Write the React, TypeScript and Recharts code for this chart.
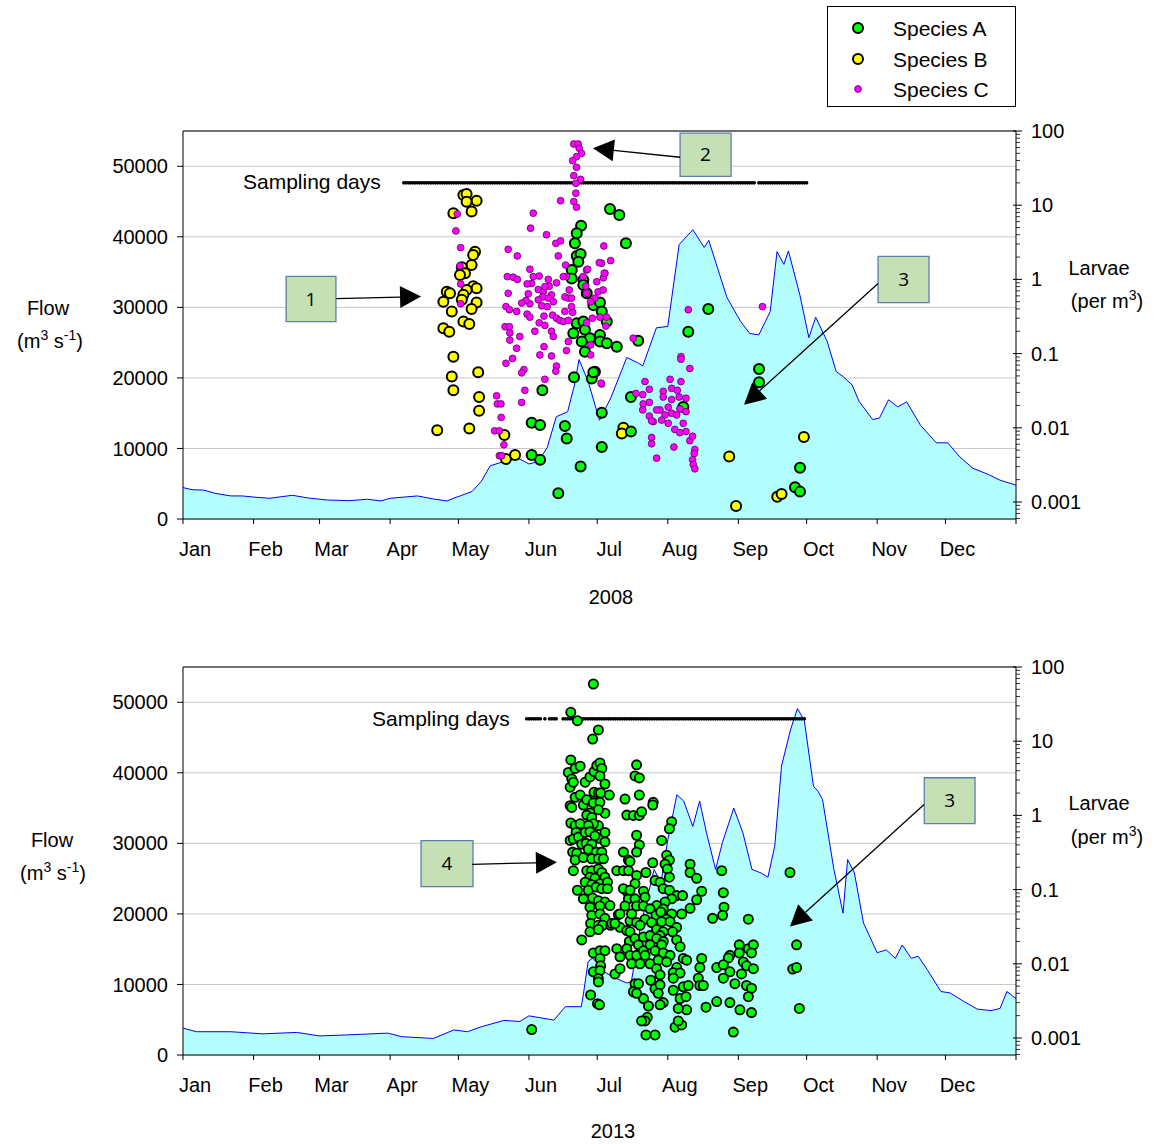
import React from 'react';
import { ComposedChart, Area, Scatter, XAxis, YAxis, CartesianGrid, ReferenceArea, ReferenceLine } from 'recharts';

const FONT = '"Liberation Sans", Arial, Helvetica, sans-serif';

// ---------- axes ----------
const MONTHS = ['Jan', 'Feb', 'Mar', 'Apr', 'May', 'Jun', 'Jul', 'Aug', 'Sep', 'Oct', 'Nov', 'Dec'];
const MONTH_TICKS = [0, 31, 60, 91, 121, 152, 182, 213, 244, 274, 305, 335, 366];
const FLOW_TICKS = [0, 10000, 20000, 30000, 40000, 50000];
const LARVAE_MAJOR = [0.001, 0.01, 0.1, 1, 10, 100];
const LARVAE_LABELS = ['0.001', '0.01', '0.1', '1', '10', '100'];
const LARVAE_MINOR = [
  0.0006, 0.0007, 0.0008, 0.0009,
  0.002, 0.003, 0.004, 0.005, 0.006, 0.007, 0.008, 0.009,
  0.02, 0.03, 0.04, 0.05, 0.06, 0.07, 0.08, 0.09,
  0.2, 0.3, 0.4, 0.5, 0.6, 0.7, 0.8, 0.9,
  2, 3, 4, 5, 6, 7, 8, 9,
  20, 30, 40, 50, 60, 70, 80, 90,
];
const LARVAE_TICKS = [...LARVAE_MAJOR, ...LARVAE_MINOR].sort((a, b) => a - b);
const LOG_MIN = 0.00059;
const SAMPLING_LEVEL = 20;

// ---------- 2008 ----------
const flow2008 = [[0,4450],[4,4150],[9,4100],[14,3650],[21,3270],[26,3270],[32,3080],[38,2940],[48,3360],[55,2980],[63,2700],[73,2600],[81,2800],[87,2560],[91,2940],[103,3270],[110,2840],[116,2560],[120,3080],[122,3300],[127,3900],[131,5300],[135,7550],[139,7950],[144,8400],[148,8500],[152,7800],[156,8150],[160,10100],[164,14500],[169,15200],[172,19000],[174,22600],[178,19500],[183,14000],[188,17200],[195,22900],[200,22100],[202,21700],[208,27100],[213,27300],[218,38900],[224,41000],[229,38500],[231,39500],[239,31400],[245,28000],[249,26300],[253,26100],[258,29400],[261,37900],[264,36100],[266,38000],[271,31800],[275,25700],[278,28600],[283,25200],[287,20900],[290,20200],[294,19000],[297,16700],[303,14100],[306,14300],[310,16900],[314,15900],[318,16600],[324,13300],[331,10800],[336,10800],[341,8900],[347,7200],[354,6300],[359,5500],[366,4800]];

const speciesA2008 = [[187.6,8.9],[191.7,7.4],[194.6,3.07],[174.9,5.3],[173.0,4.2],[172.2,3.07],[173.0,2.07],[174.7,2.2],[173.7,1.73],[170.8,1.34],[170.8,1.03],[175.9,0.98],[175.9,0.84],[177.4,0.65],[180.3,0.45],[183.2,0.49],[184.0,0.37],[186.2,0.27],[173.0,0.256],[175.9,0.27],[176.6,0.21],[171.5,0.188],[178.8,0.161],[183.2,0.178],[183.2,0.145],[175.2,0.145],[186.2,0.138],[190.6,0.124],[176.6,0.106],[181.0,0.057],[179.6,0.046],[171.8,0.048],[157.9,0.032],[184.0,0.016],[153.2,0.0117],[156.9,0.0109],[167.8,0.0106],[168.6,0.0072],[184.0,0.0055],[153.2,0.0043],[156.9,0.0037],[174.7,0.003],[200.0,0.149],[196.8,0.026],[196.8,0.0089],[222.0,0.197],[230.8,0.4],[219.8,0.019],[253.1,0.062],[253.1,0.041],[271.1,0.0029],[268.9,0.00158],[271.1,0.00138],[164.9,0.00131],[180.3,0.056]];

const speciesB2008 = [[123.2,13.7],[124.6,14.2],[129.0,11.5],[124.6,11.1],[126.8,8.2],[118.8,7.8],[128.3,2.36],[127.5,2.13],[126.8,1.56],[122.5,1.46],[123.9,1.21],[121.7,1.15],[127.5,0.81],[129.0,0.76],[124.6,0.72],[115.9,0.68],[117.3,0.65],[114.4,0.5],[123.2,0.62],[122.5,0.53],[129.0,0.49],[126.8,0.4],[118.1,0.37],[123.2,0.27],[125.8,0.25],[114.4,0.22],[117.0,0.197],[118.8,0.091],[118.1,0.049],[129.7,0.056],[118.8,0.032],[130.1,0.026],[130.1,0.017],[111.7,0.0093],[125.8,0.0098],[141.2,0.008],[141.9,0.0038],[145.9,0.0043],[193.5,0.01],[192.8,0.0084],[240.0,0.0041],[243.0,0.00088],[261.1,0.00118],[263.0,0.00128],[272.8,0.0075]];

const speciesC2008 = [[171.7,66.8],[173.6,66.8],[174.1,58.4],[175.1,50],[172.9,45.1],[171.2,39.8],[172.9,32.4],[171.7,25],[174.7,22.3],[172.6,19.7],[172.6,14.5],[171.7,11.2],[172.9,9.4],[165.9,11.5],[153.9,7.8],[152.7,4.9],[159.7,4.0],[163.8,3.06],[165.9,3.3],[164.9,2.07],[168.1,1.56],[142.9,2.54],[146.9,2.07],[119.9,4.5],[122.0,2.68],[120.5,7.6],[121.7,1.52],[122.0,0.87],[122.0,0.47],[142.5,1.09],[145.1,1.07],[146.9,1.0],[152.4,1.37],[153.9,1.09],[156.5,1.11],[160.5,1.0],[160.9,0.81],[164.1,0.9],[153.2,0.88],[151.2,0.87],[142.9,0.65],[151.7,0.64],[156.1,0.73],[158.3,0.68],[159.0,0.8],[161.9,0.62],[158.0,0.58],[160.5,0.56],[162.7,0.5],[167.8,0.58],[169.3,0.56],[169.7,0.72],[168.5,1.09],[156.1,0.53],[152.4,0.47],[150.7,0.52],[148.8,0.48],[157.6,0.44],[160.0,0.43],[141.9,0.43],[143.4,0.39],[146.6,0.37],[151.2,0.34],[152.4,0.31],[158.6,0.32],[162.4,0.33],[164.1,0.3],[165.6,0.28],[167.8,0.37],[171.2,0.36],[170.7,0.43],[167.1,0.27],[169.3,0.28],[156.5,0.26],[159.0,0.24],[141.5,0.23],[143.4,0.23],[143.6,0.19],[143.6,0.152],[148.0,0.17],[154.6,0.2],[161.9,0.2],[162.7,0.17],[169.3,0.145],[158.6,0.124],[146.6,0.118],[156.8,0.096],[161.9,0.093],[168.5,0.11],[164.1,0.068],[163.8,0.058],[144.8,0.086],[141.9,0.074],[149.8,0.061],[148.8,0.055],[159.0,0.045],[150.2,0.032],[148.8,0.022],[137.8,0.027],[138.1,0.021],[139.7,0.021],[139.8,0.0138],[136.9,0.0091],[139.0,0.0091],[141.0,0.0059],[139.0,0.0042],[140.0,0.0042],[177.3,0.65],[181.0,0.56],[182.4,0.68],[184.6,0.72],[185.4,1.21],[183.9,1.65],[187.9,1.79],[184.9,2.82],[177.3,1.34],[175.8,1.09],[176.9,0.81],[179.1,0.5],[179.9,0.3],[179.1,0.131],[179.1,0.096],[183.9,0.039],[183.2,0.31],[186.1,0.31],[177.3,0.26],[170.7,0.56],[167.1,1.09],[185.8,0.235],[197.8,0.161],[222.0,0.39],[254.6,0.43],[218.8,0.091],[218.8,0.084],[222.7,0.063],[214.0,0.045],[218.8,0.042],[203.0,0.042],[204.9,0.033],[202.0,0.028],[199.0,0.029],[211.0,0.031],[214.7,0.034],[217.2,0.032],[221.0,0.025],[218.0,0.026],[211.0,0.026],[214.7,0.024],[204.9,0.022],[202.2,0.021],[213.2,0.019],[218.3,0.018],[221.0,0.0165],[209.6,0.0174],[208.1,0.0174],[202.0,0.0174],[204.9,0.0144],[211.8,0.0149],[214.7,0.0157],[216.9,0.0149],[206.6,0.0121],[210.3,0.0127],[213.2,0.0115],[205.9,0.0124],[216.1,0.0095],[219.8,0.0115],[218.3,0.0086],[221.0,0.0089],[222.7,0.0067],[223.9,0.0077],[205.9,0.0074],[205.9,0.0061],[215.7,0.0055],[224.9,0.0051],[224.6,0.0045],[223.9,0.0037],[224.2,0.0032],[224.9,0.0028],[208.1,0.0039],[182.9,1.68],[177.8,1.37],[181.8,0.93],[184.7,1.05],[185.1,1.21],[183.7,0.04]];

const samplingRanges2008 = [[97, 251], [253, 274]];

// ---------- 2013 ----------
const flow2013 = [[0,3800],[6,3300],[21,3300],[35,3000],[50,3200],[60,2700],[72,2850],[90,3100],[96,2600],[110,2350],[119,3550],[125,3300],[131,4000],[141,4900],[148,4750],[152,5550],[163,4950],[168,6850],[175,6850],[176,8800],[178,13250],[180,13750],[185,11800],[190,10900],[195,10200],[197,10400],[201,18200],[207,26300],[210,24400],[213,30500],[217,36900],[220,36000],[224,32400],[227,36000],[230,31500],[234,26300],[237,30100],[242,35000],[246,31500],[250,26300],[254,25800],[257,25200],[260,29600],[263,41000],[267,46200],[270,49100],[273,47400],[277,38100],[279,37400],[281,36200],[286,26300],[290,20100],[292,27700],[295,25800],[299,18700],[305,14500],[309,14900],[313,13700],[316,15600],[320,13700],[323,14000],[327,12100],[333,9000],[337,8800],[343,7600],[349,6500],[355,6300],[359,6600],[362,9000],[366,8000]];

const speciesA2013 = [[180.3,59],[170.4,24.5],[173.3,18.9],[182.5,14.2],[180.0,10.7],[170.4,5.6],[169.3,3.8],[172.3,4.3],[174.5,4.6],[170.8,3.1],[170.1,2.4],[171.5,2.8],[172.3,1.75],[174.5,1.88],[170.1,1.35],[170.8,1.28],[175.9,1.38],[170.4,0.79],[172.3,0.73],[174.5,0.77],[172.7,0.59],[170.1,0.46],[171.5,0.48],[173.7,0.51],[175.2,0.41],[171.2,0.32],[173.0,0.31],[172.3,0.25],[171.5,0.18],[173.3,0.098],[175.2,0.021],[176.7,2.8],[178.8,3.3],[180.6,3.9],[181.8,4.7],[183.2,5.1],[184.0,4.3],[183.2,3.4],[185.4,2.65],[180.6,2.05],[182.5,2.0],[183.5,2.0],[187.3,1.88],[177.4,1.63],[180.3,1.47],[183.2,1.5],[185.4,1.07],[182.5,1.19],[178.8,1.08],[177.4,1.01],[179.6,0.94],[182.5,0.73],[180.3,0.77],[178.1,0.73],[176.7,0.59],[178.8,0.6],[183.2,0.49],[185.4,0.59],[181.0,0.53],[177.1,0.42],[179.6,0.41],[185.4,0.44],[178.1,0.35],[181.5,0.32],[184.0,0.32],[175.9,0.27],[179.6,0.26],[182.5,0.26],[184.7,0.26],[177.4,0.18],[179.6,0.18],[182.5,0.19],[184.0,0.17],[178.8,0.147],[181.0,0.142],[185.4,0.147],[176.7,0.126],[179.6,0.116],[183.2,0.12],[186.5,0.126],[178.1,0.098],[181.5,0.108],[184.0,0.103],[186.5,0.103],[175.9,0.075],[180.0,0.077],[182.5,0.071],[185.4,0.068],[178.8,0.058],[183.2,0.06],[187.6,0.061],[179.6,0.045],[183.2,0.047],[185.4,0.041],[179.1,0.035],[182.5,0.033],[184.4,0.033],[178.8,0.027],[182.5,0.029],[187.9,0.033],[191.3,0.046],[188.4,0.035],[192.0,0.031],[180.3,0.014],[183.2,0.015],[185.4,0.015],[183.2,0.0118],[183.5,0.0094],[180.3,0.0078],[183.2,0.0081],[182.5,0.0063],[182.5,0.0057],[179.1,0.0038],[182.1,0.0029],[183.0,0.0028],[153.2,0.0013],[190.6,0.18],[193.5,0.18],[195.7,0.18],[193.5,0.32],[195.7,0.25],[195.0,0.095],[195.7,0.075],[194.2,0.06],[192.0,0.047],[189.8,0.035],[195.0,0.028],[196.4,0.038],[190.6,0.016],[192.0,0.0124],[196.1,0.02],[195.0,0.016],[189.8,0.0073],[192.0,0.0086],[194.2,1.66],[195.0,1.01],[193.5,0.103],
[199.3,4.8],[198.6,3.4],[200.5,3.2],[200.5,1.88],[197.9,1.0],[200.5,1.0],[201.5,1.12],[199.3,0.54],[200.5,0.4],[199.3,0.32],[196.4,0.24],[199.3,0.155],[198.6,0.12],[196.4,0.098],[202.3,0.095],[198.6,0.075],[203.0,0.079],[199.3,0.06],[202.3,0.06],[197.1,0.047],[199.3,0.036],[203.0,0.04],[200.8,0.033],[196.4,0.027],[198.6,0.022],[202.3,0.023],[200.1,0.018],[196.4,0.013],[199.3,0.013],[202.3,0.015],[197.1,0.01],[200.8,0.01],[203.0,0.013],[198.6,0.0054],[200.1,0.0054],[202.3,0.0034],[197.9,0.0042],[199.3,0.004],[204.5,0.0027],[204.0,0.0019],[203.0,0.0017],[201.5,0.0017],[203.4,0.0011],[207.4,0.0011],[206.6,1.5],[206.4,1.38],[214.7,0.82],[213.7,0.66],[210.3,0.46],[212.5,0.29],[213.7,0.25],[211.8,0.22],[212.8,0.19],[206.4,0.23],[203.4,0.17],[207.4,0.133],[209.6,0.126],[213.7,0.147],[211.0,0.103],[213.7,0.098],[216.9,0.083],[219.5,0.083],[214.7,0.075],[211.8,0.068],[208.1,0.061],[205.2,0.055],[211.0,0.055],[207.8,0.045],[209.9,0.05],[214.7,0.047],[212.5,0.04],[205.9,0.036],[210.3,0.037],[214.0,0.037],[216.9,0.031],[208.1,0.029],[211.0,0.027],[215.1,0.027],[205.2,0.024],[209.6,0.024],[208.1,0.022],[211.0,0.02],[216.9,0.021],[205.2,0.018],[210.3,0.018],[207.4,0.015],[218.4,0.017],[211.0,0.014],[214.0,0.013],[219.8,0.0118],[221.3,0.0112],[205.2,0.01],[208.8,0.0112],[212.5,0.0106],[216.9,0.0089],[208.1,0.0086],[209.6,0.0071],[215.4,0.0076],[218.4,0.0075],[215.4,0.0064],[205.5,0.006],[207.4,0.0046],[209.6,0.0052],[208.8,0.004],[215.4,0.0044],[219.8,0.0049],[222.0,0.0051],[211.0,0.003],[209.6,0.0028],[218.4,0.0034],[221.0,0.0036],[221.3,0.0024],[217.6,0.0025],[216.2,0.0014],[219.1,0.0015],[217.6,0.0017],[222.8,0.22],[222.8,0.17],[225.7,0.142],[227.9,0.095],[225.7,0.073],[222.8,0.056],[219.1,0.047],[227.9,0.0118],[227.1,0.0089],[226.4,0.0064],[227.1,0.0051],[228.6,0.0051],[236.7,0.18],[237.4,0.091],[237.7,0.058],[237.1,0.045],[232.7,0.041],[248.4,0.04],[266.7,0.17],[234.5,0.0089],[240.3,0.013],[239.6,0.012],[237.4,0.0097],[240.3,0.0078],[237.4,0.0064],[242.5,0.0054],[244.4,0.018],[244.4,0.014],[248.4,0.016],[250.6,0.018],[249.8,0.014],[246.2,0.0106],[247.6,0.0094],[250.6,0.0086],[245.4,0.0073],[247.6,0.0051],[249.8,0.0047],[248.4,0.0036],[244.7,0.0024],[249.8,0.0022],[240.3,0.003],[234.5,0.0031],[229.8,0.0026],[241.8,0.0012],[269.6,0.018],[267.9,0.0085],[269.6,0.0089],[270.8,0.0025]];

const samplingRanges2013 = [[151, 157], [159, 159], [161, 164], [167, 273]];

// ---------- annotations (in data coordinates: day, flow) ----------
const notes2008 = {
  boxes: [
    { label: '1', x1: 45.3, x2: 67.2, y1: 27980, y2: 34380 },
    { label: '2', x1: 218.4, x2: 240.8, y1: 48580, y2: 54690 },
    { label: '3', x1: 305.4, x2: 327.8, y1: 30680, y2: 37220 },
  ],
  arrows: [
    { from: [67.2, 31250], to: [104.6, 31530] },
    { from: [218.4, 51280], to: [180.1, 52560] },
    { from: [305.4, 33380], to: [246.5, 16190] },
  ],
};
const notes2013 = {
  boxes: [
    { label: '4', x1: 104.6, x2: 127.4, y1: 23860, y2: 30400 },
    { label: '3', x1: 325.7, x2: 348.0, y1: 32810, y2: 39300 },
  ],
  arrows: [
    { from: [127.0, 27030], to: [164.3, 27320] },
    { from: [325.6, 35510], to: [266.7, 18230] },
  ],
};

// ---------- helpers ----------
const toFlow = (arr) => arr.map(([day, flow]) => ({ day, flow }));
const toPts = (arr) => arr.map(([day, v]) => ({ day, v }));
const toSampling = (ranges) => {
  const out = [];
  ranges.forEach(([s, e]) => { for (let d = s; d <= e; d++) out.push({ day: d, v: SAMPLING_LEVEL }); });
  return out;
};

const renderMonthTick = (p) => {
  const idx = MONTH_TICKS.indexOf(p.payload.value);
  return (
    <g>
      <line x1={p.x} x2={p.x} y1={p.y} y2={p.y + 5} stroke="#000" />
      {idx >= 0 && idx < 12 && (
        <text x={p.x + 12} y={p.y + 30} dy="0.355em" textAnchor="middle" fontSize={20} fill="#000" fontFamily={FONT}>
          {MONTHS[idx]}
        </text>
      )}
    </g>
  );
};

const renderLogTick = (p) => {
  const v = p.payload.value;
  const idx = LARVAE_MAJOR.findIndex((m) => Math.abs(m - v) / m < 1e-6);
  const major = idx >= 0;
  return (
    <g>
      <line x1={major ? p.x - 3 : p.x} x2={p.x + (major ? 6 : 4)} y1={p.y} y2={p.y} stroke="#000" strokeWidth={major ? 1 : 0.8} />
      {major && (
        <text x={p.x + 15} y={p.y} dy="0.355em" textAnchor="start" fontSize={20} fill="#000" fontFamily={FONT}>
          {LARVAE_LABELS[idx]}
        </text>
      )}
    </g>
  );
};

const ArrowShape = (p) => {
  const { x1, y1, x2, y2 } = p;
  if ([x1, y1, x2, y2].some((n) => typeof n !== 'number' || isNaN(n))) return null;
  const dx = x2 - x1;
  const dy = y2 - y1;
  const len = Math.hypot(dx, dy) || 1;
  const ux = dx / len;
  const uy = dy / len;
  const L = 21;
  const W = 11;
  const bx = x2 - ux * L;
  const by = y2 - uy * L;
  const pts = `${x2},${y2} ${bx - uy * W},${by + ux * W} ${bx + uy * W},${by - ux * W}`;
  return (
    <g>
      <line x1={x1} y1={y1} x2={bx} y2={by} stroke="#000" strokeWidth={1.3} />
      <polygon points={pts} fill="#000" />
    </g>
  );
};

const dot = (fill, r, stroke, sw) => (p) =>
  p.cx == null || p.cy == null ? <g /> : <circle cx={p.cx} cy={p.cy} r={r} fill={fill} stroke={stroke} strokeWidth={sw} />;

const shapeSampling = dot('#000', 1.8, 'none', 0);
const shapeA = dot('#00ff00', 5, '#000', 2);
const shapeA13 = dot('#00ff00', 4.6, '#000', 1.8);
const shapeB = dot('#ffff00', 5, '#000', 2);
const shapeC = dot('#ff00ff', 3.4, '#5a005a', 0.8);

function Panel({ top, flow, a, b, c, aShape, sampling, notes }) {
  return (
    <div style={{ position: 'absolute', left: 0, top, width: 1154, height: 620 }}>
      <ComposedChart width={1154} height={620} data={flow} margin={{ top: 131, right: 0, bottom: 61, left: 0 }} style={{ fontFamily: FONT }}>
        <CartesianGrid yAxisId="left" vertical={false} stroke="#c8c8c8" />
        <XAxis
          dataKey="day" type="number" domain={[0, 366]} ticks={MONTH_TICKS} interval={0}
          tickLine={false} tickSize={0} tickMargin={0} height={40} stroke="#000"
          tick={renderMonthTick} allowDataOverflow
        />
        <YAxis
          yAxisId="left" orientation="left" domain={[0, 55000]} ticks={FLOW_TICKS} interval={0}
          width={183} stroke="#000" tickSize={6} tickMargin={9}
          tick={{ fill: '#000', fontSize: 20, fontFamily: FONT }} allowDataOverflow
        />
        <YAxis
          yAxisId="right" orientation="right" dataKey="v" scale="log" domain={[LOG_MIN, 100]}
          ticks={LARVAE_TICKS} interval={0} width={138} stroke="#000"
          tickLine={false} tickSize={0} tickMargin={0} tick={renderLogTick} allowDataOverflow
        />
        <Area
          yAxisId="left" dataKey="flow" type="linear" stroke="#0000ff" strokeWidth={1}
          fill="#b3ffff" fillOpacity={1} dot={false} activeDot={false} isAnimationActive={false}
        />
        <ReferenceLine yAxisId="left" y={55000} stroke="#000" />
        <Scatter yAxisId="right" data={sampling} shape={shapeSampling} isAnimationActive={false} />
        {b && <Scatter yAxisId="right" data={b} shape={shapeB} isAnimationActive={false} />}
        {a && <Scatter yAxisId="right" data={a} shape={aShape} isAnimationActive={false} />}
        {c && <Scatter yAxisId="right" data={c} shape={shapeC} isAnimationActive={false} />}
        {notes.arrows.map((ar, i) => (
          <ReferenceLine
            key={'ar' + i} yAxisId="left"
            segment={[{ x: ar.from[0], y: ar.from[1] }, { x: ar.to[0], y: ar.to[1] }]}
            shape={ArrowShape}
          />
        ))}
        {notes.boxes.map((bx, i) => (
          <ReferenceArea
            key={'bx' + i} yAxisId="left" x1={bx.x1} x2={bx.x2} y1={bx.y1} y2={bx.y2}
            fill="#c5e0b4" fillOpacity={1} stroke="#5b7faa" strokeWidth={1.3}
            label={{ value: bx.label, position: 'center', fill: '#000', fontSize: 19, fontFamily: '"Open Sans", Arial, sans-serif' }}
          />
        ))}
      </ComposedChart>
    </div>
  );
}

const Txt = ({ x, y, children, size = 20, anchor = 'center' }) => {
  const tx = anchor === 'center' ? '-50%' : anchor === 'end' ? '-100%' : '0';
  return (
    <div
      style={{
        position: 'absolute', left: x, top: y, transform: `translate(${tx}, -50%)`,
        fontSize: size, lineHeight: 1, whiteSpace: 'nowrap', fontFamily: FONT, color: '#000',
      }}
    >
      {children}
    </div>
  );
};

const Sup = ({ children }) => (
  <span style={{ fontSize: 14, position: 'relative', top: -8 }}>{children}</span>
);

const Legend = () => (
  <div style={{ position: 'absolute', left: 827, top: 6, width: 187, height: 99, border: '1px solid #000', background: '#fff' }}>
    <svg width={60} height={99} style={{ position: 'absolute', left: 0, top: 0 }}>
      <circle cx={30} cy={21} r={5} fill="#00ff00" stroke="#000" strokeWidth={2} />
      <circle cx={30} cy={52} r={5} fill="#ffff00" stroke="#000" strokeWidth={2} />
      <circle cx={30} cy={82} r={3.4} fill="#ff00ff" stroke="#5a005a" strokeWidth={0.8} />
    </svg>
    <Txt x={65} y={21} anchor="start" size={21}>Species A</Txt>
    <Txt x={65} y={52} anchor="start" size={21}>Species B</Txt>
    <Txt x={65} y={82} anchor="start" size={21}>Species C</Txt>
  </div>
);

export default function App() {
  return (
    <div style={{ position: 'absolute', left: 0, top: 0, width: 1154, height: 1144, background: '#fff', fontFamily: FONT, overflow: 'hidden' }}>
      <Panel
        top={0} flow={toFlow(flow2008)} a={toPts(speciesA2008)} b={toPts(speciesB2008)} c={toPts(speciesC2008)}
        aShape={shapeA} sampling={toSampling(samplingRanges2008)} notes={notes2008}
      />
      <Panel
        top={536} flow={toFlow(flow2013)} a={toPts(speciesA2013)} b={null} c={null}
        aShape={shapeA13} sampling={toSampling(samplingRanges2013)} notes={notes2013}
      />
      <Legend />
      <Txt x={243} y={181} anchor="start" size={21}>Sampling days</Txt>
      <Txt x={372} y={718} anchor="start" size={21}>Sampling days</Txt>

      <Txt x={48} y={308}>Flow</Txt>
      <Txt x={50} y={341}>(m<Sup>3</Sup> s<Sup>-1</Sup>)</Txt>
      <Txt x={52} y={840}>Flow</Txt>
      <Txt x={53} y={873}>(m<Sup>3</Sup> s<Sup>-1</Sup>)</Txt>

      <Txt x={1099} y={268}>Larvae</Txt>
      <Txt x={1107} y={301}>(per m<Sup>3</Sup>)</Txt>
      <Txt x={1099} y={803}>Larvae</Txt>
      <Txt x={1107} y={837}>(per m<Sup>3</Sup>)</Txt>

      <Txt x={611} y={597}>2008</Txt>
      <Txt x={613} y={1131}>2013</Txt>
    </div>
  );
}
